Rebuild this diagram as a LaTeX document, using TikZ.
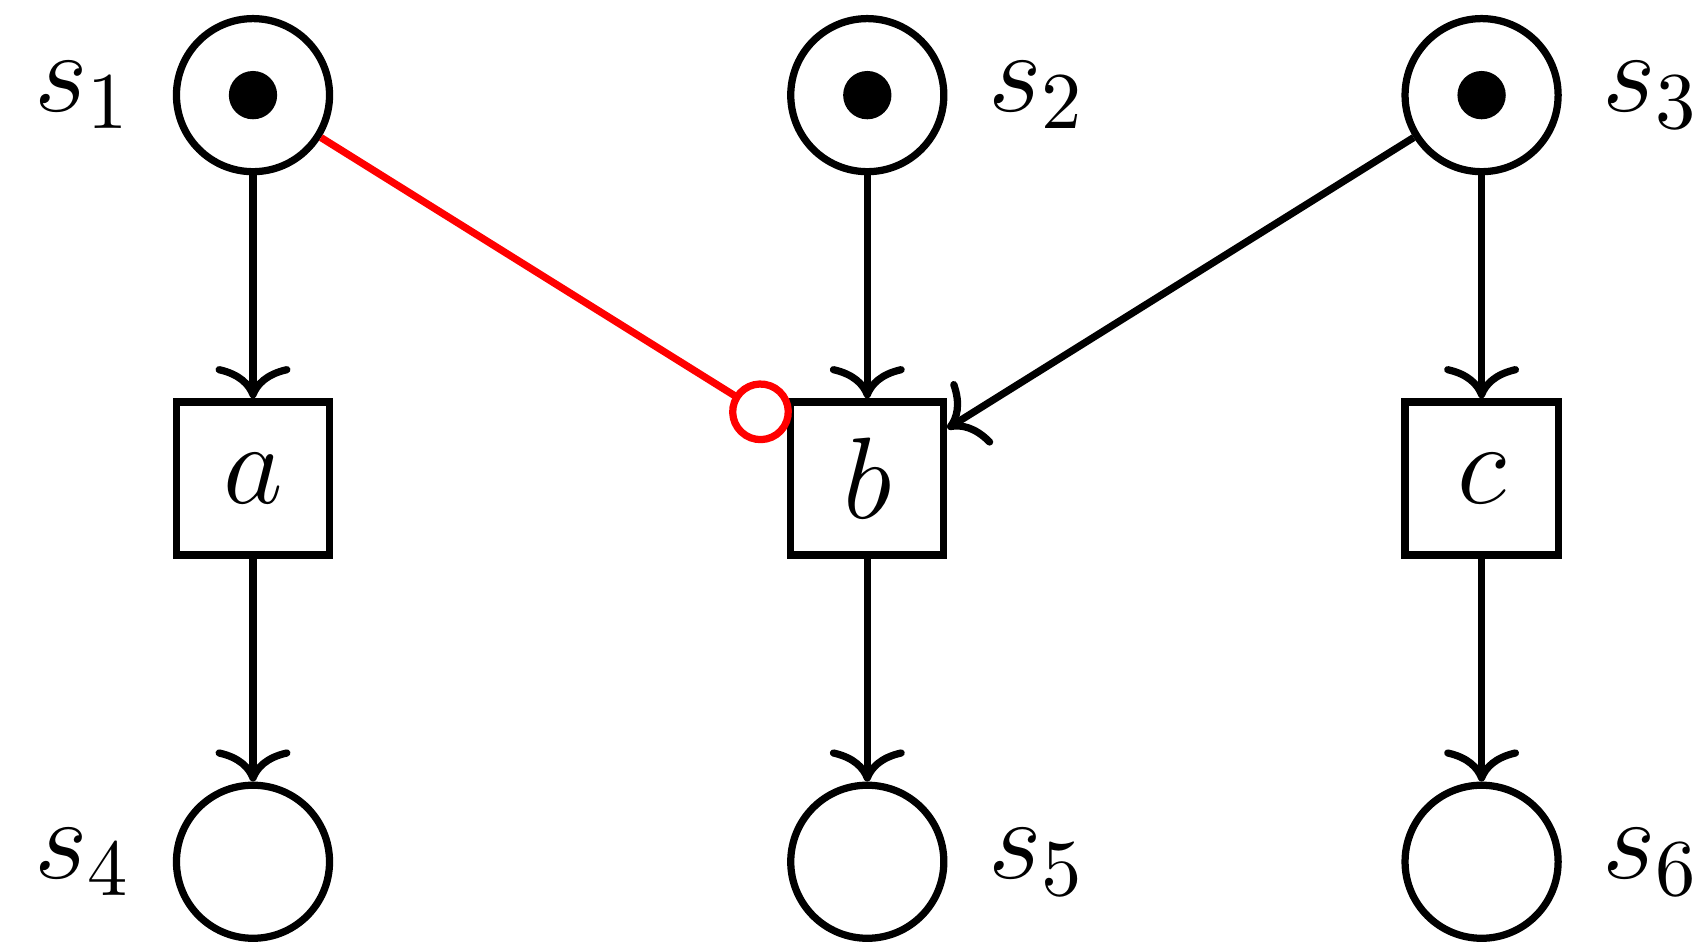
\documentclass[tikz,border=0pt]{standalone}
\usepackage{tikz}
\usetikzlibrary{arrows.meta, positioning}

\begin{document}
\begin{tikzpicture}[
    node distance=0.973cm and 1.981cm,
    font=\Large,
    label distance=1.5pt,
    place/.style={circle, draw, line width=0.9pt, minimum size=0.668cm, inner sep=0pt},
    trans/.style={rectangle, draw, line width=0.9pt, minimum size=0.668cm, inner sep=0pt},
    token/.style={circle, fill, inner sep=0pt, minimum size=6pt},
    arc/.style={-{Computer Modern Rightarrow[length=4pt, width=9.3pt]}, line width=0.9pt},
    inhib/.style={-{Circle[open, length=7.8pt, width=7.8pt]}, line width=0.9pt, red}
  ]
    \useasboundingbox (-1.104,-3.718) rectangle (6.345,0.415);

    % places with tokens
    \node[place, label={left:$s_1$}]               (s1) {};
    \node[place, right=of s1, label={right:$s_2$}] (s2) {};
    \node[place, right=of s2, label={right:$s_3$}] (s3) {};
    \node[token] (k1) at (s1) {};
    \node[token] (k2) at (s2) {};
    \node[token] (k3) at (s3) {};

    % transitions
    \node[trans, below=of s1] (a) {$a$};
    \node[trans, below=of s2] (b) {$b$};
    \node[trans, below=of s3] (c) {$c$};

    % output places
    \node[place, below=of a, label={left:$s_4$}]  (s4) {};
    \node[place, below=of b, label={right:$s_5$}] (s5) {};
    \node[place, below=of c, label={right:$s_6$}] (s6) {};

    \draw[arc] (s1) -- (a);
    \draw[arc] (s2) -- (b);
    \draw[arc] (s3) -- (b);
    \draw[arc] (s3) -- (c);
    \draw[arc] (a) -- (s4);
    \draw[arc] (b) -- (s5);
    \draw[arc] (c) -- (s6);
    \draw[inhib] (s1) -- (b);
  \end{tikzpicture}
\end{document}
